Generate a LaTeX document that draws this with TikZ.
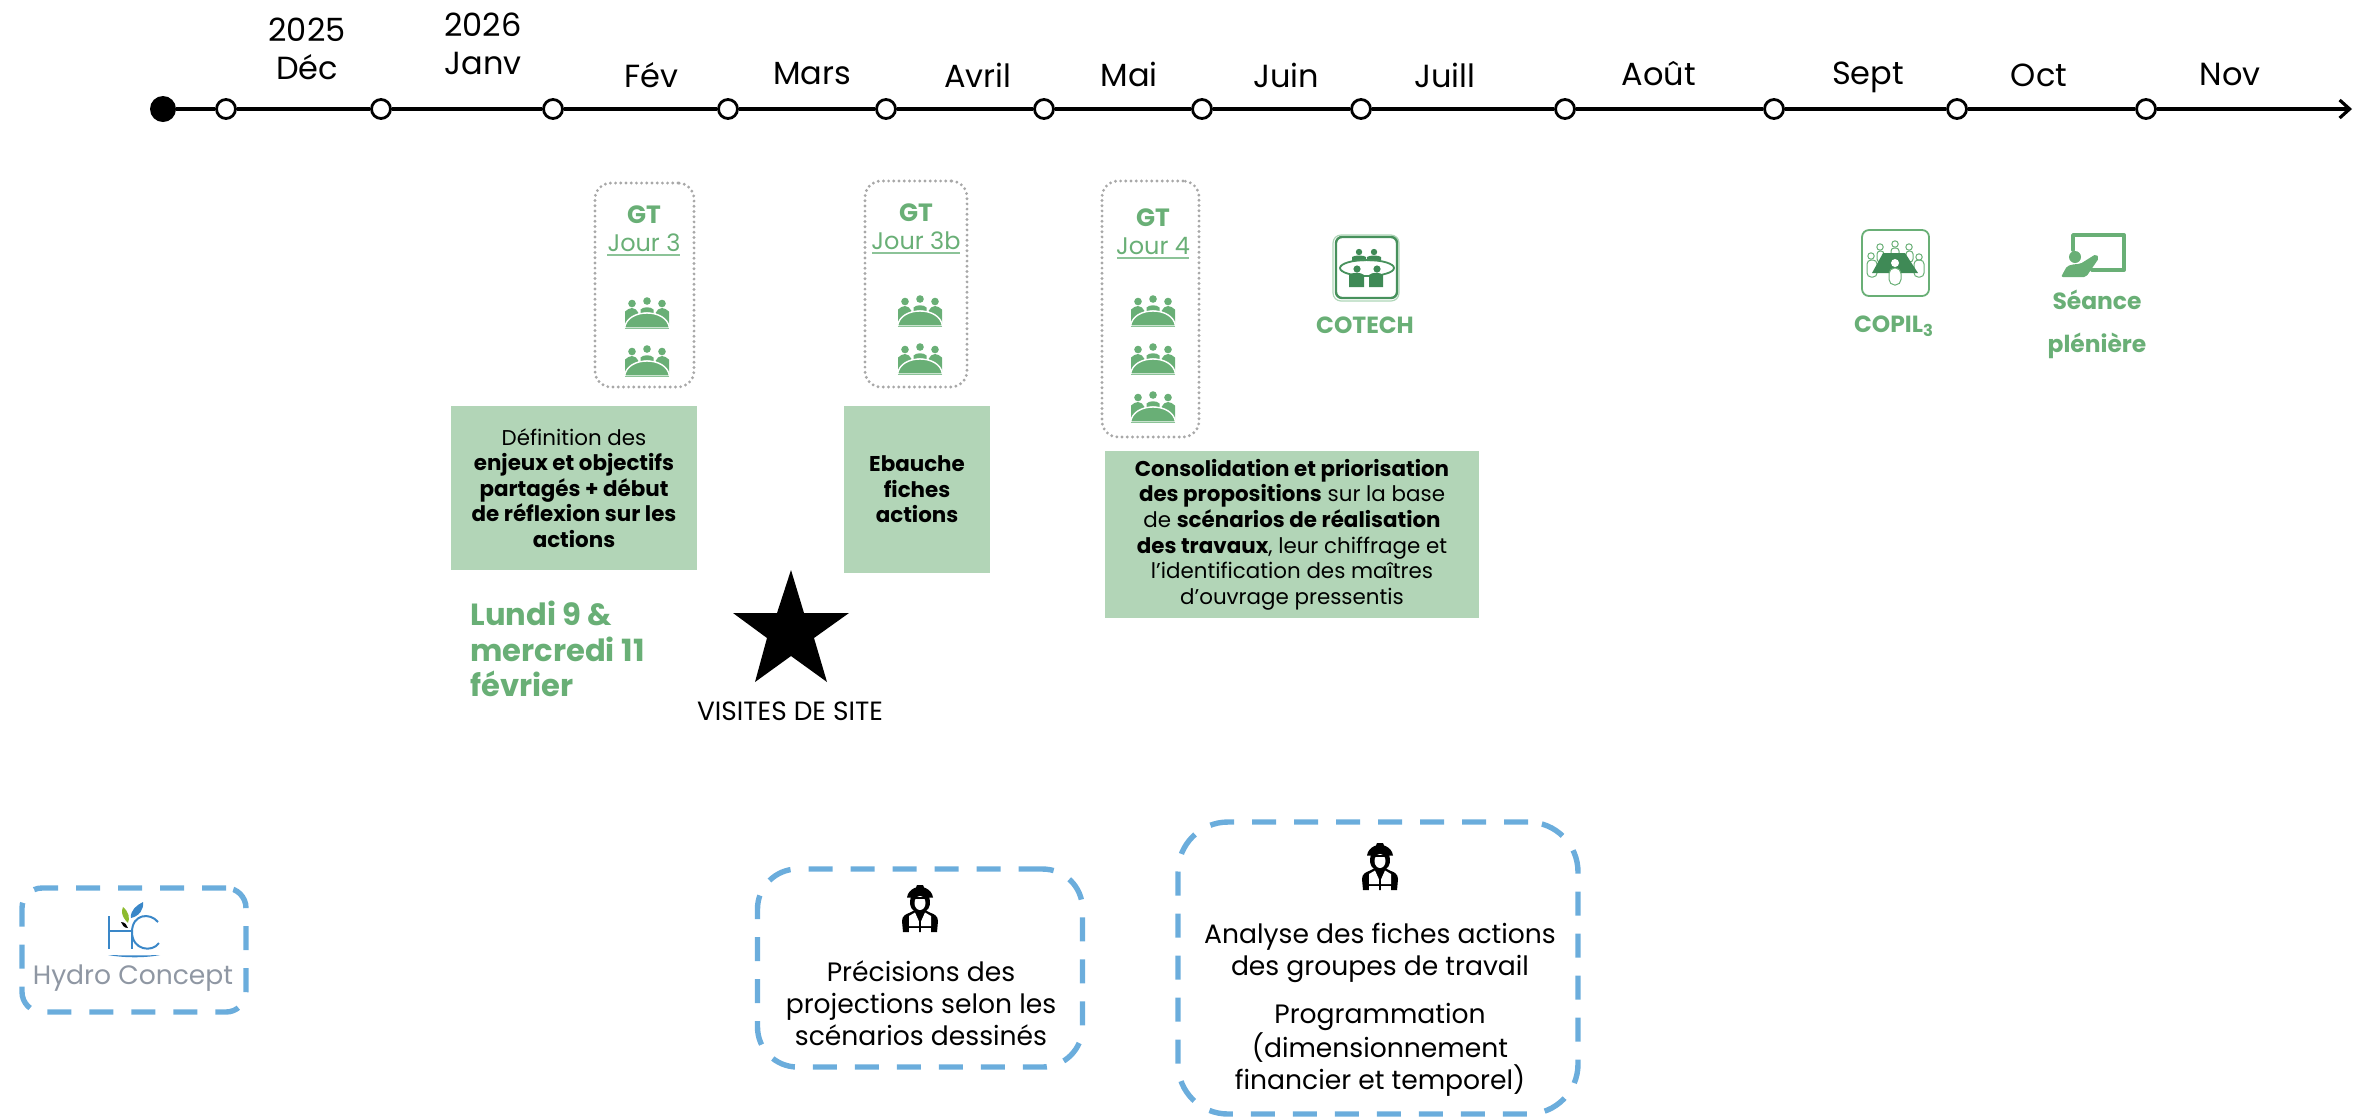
\documentclass[tikz,border=0pt]{standalone}
\usepackage{fontspec}
\setmainfont{Poppins}
\usetikzlibrary{arrows.meta}
\definecolor{gtxt}{HTML}{69AF76}
\definecolor{gdark}{HTML}{3F8A56}
\definecolor{gbox}{HTML}{B2D5B7}
\definecolor{gline}{HTML}{8CC398}
\definecolor{dashblue}{HTML}{6BADDC}
\definecolor{dotgrey}{HTML}{A8A8A8}
\definecolor{hgrey}{HTML}{8F97A3}
\definecolor{hblue}{HTML}{3A87C8}
\definecolor{hgreen}{HTML}{8DBB2E}
\tikzset{
  axisline/.style={line width=2.3pt,draw=black},
  tick/.style={circle,draw=black,fill=white,line width=1.4pt,minimum size=9.5pt,inner sep=0pt},
  startdot/.style={circle,fill=black,minimum size=13pt,inner sep=0pt},
  monthlab/.style={font=\fontsize{16}{19}\selectfont,align=center,inner sep=0pt,anchor=center},
  gtbox/.style={draw=dotgrey,line width=1.6pt,line cap=round,dash pattern=on 0pt off 2.6pt,rounded corners=8pt,inner sep=0pt},
  gtbold/.style={font=\fontsize{12.5}{14}\selectfont\bfseries,text=gtxt,inner sep=0pt},
  gtday/.style={font=\fontsize{12}{14}\selectfont,text=gtxt,inner sep=0pt},
  gbar/.style={draw=gline,line width=1pt},
  greenbox/.style={fill=gbox,inner sep=0pt,align=center,font=\fontsize{10.7}{12.8}\selectfont},
  greenlab/.style={font=\fontsize{11.7}{13}\selectfont\bfseries,text=gtxt,inner sep=0pt},
  workbox/.style={draw=dashblue,line width=2.7pt,dash pattern=on 12pt off 9pt,inner sep=0pt},
  worktext/.style={font=\fontsize{13.3}{16}\selectfont,align=center,inner sep=0pt},
  meet/.pic={
    \fill[gtxt] (-22,-1)--(-22,-16.5) .. controls (-20,-18.5) and (-17,-20) .. (-15,-20) .. controls (-12,-20) and (-10,-18) .. (-8.5,-15)--(-16,-8)--cycle;
    \fill[gtxt] (22,-1)--(22,-16.5) .. controls (20,-18.5) and (17,-20) .. (15,-20) .. controls (12,-20) and (10,-18) .. (8.5,-15)--(16,-8)--cycle;
    \fill[gtxt] (-6.5,-14.5)--(-6.5,-18.5) .. controls (-4,-21.5) and (4,-21.5) .. (6.5,-18.5)--(6.5,-14.5) .. controls (3,-16) and (-3,-16) .. (-6.5,-14.5)--cycle;
    \fill[gtxt,draw=white,line width=.7pt] (-22.5,0) .. controls (-21,-10) and (-11,-15) .. (0,-15) .. controls (11,-15) and (21,-10) .. (22.5,0) -- cycle;
    \draw[gline,line width=.5pt] (-22,.4)--(22,.4);
    \fill[gtxt] (-15,-24.5) circle[radius=1.9pt];
    \fill[gtxt] (0,-27) circle[radius=1.9pt];
    \fill[gtxt] (15,-24.5) circle[radius=1.9pt];
  },
  worker/.pic={
    \fill[black] (-17,47) -- (-18,36) .. controls (-18,31) and (-14,29) .. (-11,28) -- (-5,25) -- (5,25) -- (11,28) .. controls (14,29) and (18,31) .. (18,36) -- (17,47) -- cycle;
    \fill[black] (-9,11) .. controls (-11,18) and (-10,23) .. (-6,26) -- (6,26) .. controls (10,23) and (11,18) .. (9,11) -- cycle;
    \fill[black] (-13,12.5) -- (-12,9) .. controls (-10,5) and (-6,3) .. (-4,2.5) -- (-3,0) -- (3,0) -- (4,2.5) .. controls (6,3) and (10,5) .. (12,9) -- (13,12.5) -- cycle;
    \fill[white] (0,18) ellipse[x radius=2.75pt,y radius=3.5pt];
    \fill[black] (-6,11.5) -- (6,11.5) -- (6,14) -- (-6,14) -- cycle;
    \fill[white] (-11,31) -- (-5,27.5) -- (-1.2,36) -- (-1.2,41) -- (-11,41) -- cycle;
    \fill[white] (11,31) -- (5,27.5) -- (1.2,36) -- (1.2,41) -- (11,41) -- cycle;
    \fill[white] (-11,43) -- (-1.2,43) -- (-1.2,48) -- (-11,48) -- cycle;
    \fill[white] (11,43) -- (1.2,43) -- (1.2,48) -- (11,48) -- cycle;
  }
}
\begin{document}
\begin{tikzpicture}[x=.5pt,y=-.5pt]
\useasboundingbox (0,0) rectangle (2353,1116);
% timeline
\node[startdot] (t0) at (163,109) {};
\node[tick] (t1) at (226,109) {};
\node[tick] (t2) at (381,109) {};
\node[tick] (t3) at (553,109) {};
\node[tick] (t4) at (728,109) {};
\node[tick] (t5) at (886,109) {};
\node[tick] (t6) at (1044,109) {};
\node[tick] (t7) at (1202,109) {};
\node[tick] (t8) at (1361,109) {};
\node[tick] (t9) at (1565,109) {};
\node[tick] (t10) at (1774,109) {};
\node[tick] (t11) at (1957,109) {};
\node[tick] (t12) at (2146,109) {};
\coordinate (tend) at (2352,109);
\draw[axisline] (t0)--(t1);
\draw[axisline] (t1)--(t2);
\draw[axisline] (t2)--(t3);
\draw[axisline] (t3)--(t4);
\draw[axisline] (t4)--(t5);
\draw[axisline] (t5)--(t6);
\draw[axisline] (t6)--(t7);
\draw[axisline] (t7)--(t8);
\draw[axisline] (t8)--(t9);
\draw[axisline] (t9)--(t10);
\draw[axisline] (t10)--(t11);
\draw[axisline] (t11)--(t12);
\draw[axisline,-{Straight Barb[length=5pt,width=9pt,line width=1.6pt]}] (t12)--(tend);
% month labels
\node[monthlab] (m1a) at (307,30) {2025};
\node[monthlab] (m1b) at (307,67) {Déc};
\node[monthlab] (m2a) at (483,25) {2026};
\node[monthlab] (m2b) at (483,63) {Janv};
\node[monthlab] (m3) at (651,75) {Fév};
\node[monthlab] (m4) at (812,74) {Mars};
\node[monthlab] (m5) at (978,75) {Avril};
\node[monthlab] (m6) at (1129,74) {Mai};
\node[monthlab] (m7) at (1286,75) {Juin};
\node[monthlab] (m8) at (1445,75) {Juill};
\node[monthlab] (m9) at (1659,74) {Août};
\node[monthlab] (m10) at (1868,77) {Sept};
\node[monthlab] (m11) at (2039,75) {Oct};
\node[monthlab] (m12) at (2230,74) {Nov};
% GT groups
\node[gtbox,minimum width=49.5pt,minimum height=102pt] (g1) at (644.5,285) {};
\node[gtbox,minimum width=51pt,minimum height=103pt] (g2) at (916,284) {};
\node[gtbox,minimum width=48.5pt,minimum height=128pt] (g3) at (1150.5,309) {};
\node[gtbold] (g1a) at (644,215) {GT};
\node[gtday] (g1b) at (644,243) {Jour 3};
\draw[gbar] (607,255)--(680,255);
\node[gtbold] (g2a) at (916,213) {GT};
\node[gtday] (g2b) at (916,241) {Jour 3b};
\draw[gbar] (872,253)--(960,253);
\node[gtbold] (g3a) at (1153,218) {GT};
\node[gtday] (g3b) at (1153,246) {Jour 4};
\draw[gbar] (1117,258)--(1189,258);
\pic at (647,328) {meet};
\pic at (647,376) {meet};
\pic at (920,326) {meet};
\pic at (920,374) {meet};
\pic at (1153,326) {meet};
\pic at (1153,374) {meet};
\pic at (1153,422) {meet};
% green boxes
\node[greenbox,minimum width=123pt,minimum height=82pt] (b1) at (574,488)
  {Définition des\\\textbf{enjeux et objectifs}\\\textbf{partagés + début}\\\textbf{de réflexion sur les}\\\textbf{actions}};
\node[greenbox,minimum width=73pt,minimum height=83.5pt] (b2) at (917,489.5)
  {\textbf{Ebauche}\\\textbf{fiches}\\\textbf{actions}};
\node[greenbox,minimum width=187pt,minimum height=83.5pt] (b3) at (1292,534.5)
  {\textbf{Consolidation et priorisation}\\\textbf{des propositions} sur la base\\de \textbf{scénarios de réalisation}\\\textbf{des travaux}, leur chiffrage et\\l’identification des maîtres\\d’ouvrage pressentis};
% date
\node[font=\fontsize{15.3}{17.7}\selectfont\bfseries,text=gtxt,align=left,inner sep=0pt,anchor=west] (d1) at (470,649) {Lundi 9 \&\\mercredi 11\\février};
% star
\fill[black] (791,570)--(804,613)--(849,613)--(814,638)--(827,682)--(791,656)--(755,682)--(767,638)--(733,613)--(777,613)--cycle;
\node[font=\fontsize{13.2}{15}\selectfont,inner sep=0pt] (vs) at (790,711) {VISITES DE SITE};
% COTECH icon
\draw[gline!70,line width=.6pt,rounded corners=4pt] (1333,235) rectangle (1399,301);
\draw[gdark!80!gtxt,line width=1.2pt,rounded corners=3pt] (1336,237) rectangle (1397,298);
\fill[gdark] (1352,261) -- (1352,257) .. controls (1354,255) and (1364,255) .. (1366,257) -- (1366,261) -- cycle;
\fill[gdark] (1367,261) -- (1367,257) .. controls (1369,255) and (1379,255) .. (1381,257) -- (1381,261) -- cycle;
\fill[gdark] (1359,252) circle[radius=1.6pt];
\fill[gdark] (1374,252) circle[radius=1.6pt];
\draw[gdark!80!gtxt,line width=.9pt] (1367,268) ellipse[x radius=13.5pt,y radius=4pt];
\fill[gdark] (1349,287)--(1349,275) .. controls (1352,272) and (1361,272) .. (1364,275)--(1364,287)--cycle;
\fill[gdark] (1369,287)--(1369,275) .. controls (1372,272) and (1380,272) .. (1383,275)--(1383,287)--cycle;
\fill[gdark] (1357,269) circle[radius=1.8pt];
\fill[gdark] (1377,269) circle[radius=1.8pt];
\node[greenlab] (cotech) at (1365,325) {COTECH};
% COPIL icon
\draw[gtxt,line width=.9pt,rounded corners=3.5pt] (1862,230) rectangle (1929,296);
\begin{scope}[gtxt,line width=.5pt]
\draw (1871,256) circle[radius=1.6pt];
\draw (1880,247) circle[radius=1.6pt];
\draw (1895,244) circle[radius=1.6pt];
\draw (1909,247) circle[radius=1.6pt];
\draw (1919,257) circle[radius=1.6pt];
\draw[rounded corners=2pt] (1867,260) rectangle (1877,277);
\draw[rounded corners=2pt] (1914,260) rectangle (1924,277);
\draw[rounded corners=1.5pt] (1877,251) rectangle (1884,262);
\draw[rounded corners=1.5pt] (1906,251) rectangle (1913,262);
\draw[rounded corners=1.5pt] (1891,248) rectangle (1899,256);
\end{scope}
\fill[gdark] (1883,253)--(1905,253)--(1918,273)--(1872,273)--cycle;
\fill[white] (1895,263) circle[radius=2pt];
\draw[gtxt,fill=white,line width=.5pt,rounded corners=2.8pt] (1889,268) rectangle (1901,285);
\node[greenlab] (copil) at (1894,326) {COPIL\textsubscript{3}};
% seance icon
\draw[gtxt,line width=1.9pt,line cap=round,line join=round] (2073,250)--(2073,235)--(2124,235)--(2124,270)--(2092,270);
\fill[gtxt] (2075,257) circle[radius=3pt];
\fill[gtxt,rounded corners=1pt] (2061,277)--(2067,266)--(2075,264)--(2080,264)--(2096,254)--(2099,258)--(2086,277)--cycle;
\node[greenlab] (s1) at (2097,300) {Séance};
\node[greenlab] (s2) at (2097,346) {plénière};
% work boxes
\node[workbox,rounded corners=10pt,minimum width=112pt,minimum height=62pt] (w1) at (134,950) {};
\node[workbox,rounded corners=20pt,minimum width=162.5pt,minimum height=99pt] (w2) at (920,968) {};
\node[workbox,rounded corners=25pt,minimum width=200pt,minimum height=146pt] (w3) at (1378,968) {};
\pic at (920,885) {worker};
\pic at (1380,843) {worker};
\node[worktext] (w2t) at (921,1003) {Précisions des\\projections selon les\\scénarios dessinés};
\node[worktext] (w3a) at (1380,953) {Analyse des fiches actions\\des groupes de travail};
\node[worktext] (w3b) at (1380,1050) {Programmation\\(dimensionnement\\financier et temporel)};
% logo
\draw[hblue,line width=1.2pt] (109,916)--(109,949);
\draw[hblue,line width=.7pt] (109,931)--(132,931);
\draw[hblue,line width=.7pt] (132,932)--(132,949);
\draw[hblue,line width=1pt] (158,922) .. controls (150,912) and (132,914) .. (132,932) .. controls (132,950) and (152,953) .. (159,943);
\fill[hblue] (108,955) .. controls (125,958) and (145,958) .. (160,955) .. controls (145,955.5) and (125,955.5) .. (108,955) -- cycle;
\fill[hgreen] (128,923) .. controls (120,915) and (122,910) .. (123,907) .. controls (129,912) and (130,918) .. (128,923) -- cycle;
\fill[hblue] (131,918) .. controls (130,910) and (137,905) .. (143,902) .. controls (144,910) and (139,916) .. (131,918) -- cycle;
\fill[black] (121,922) .. controls (125,922) and (127,925) .. (128,928) .. controls (124,928) and (122,925) .. (121,922) -- cycle;
\node[font=\fontsize{13.3}{16}\selectfont,text=hgrey,inner sep=0pt] (hc) at (133,978) {Hydro Concept};
\end{tikzpicture}
\end{document}
